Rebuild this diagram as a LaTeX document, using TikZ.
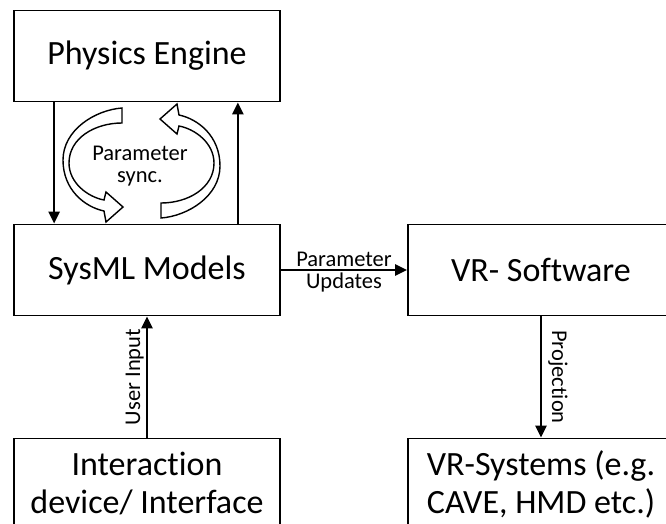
\documentclass[tikz,border=0pt]{standalone}
\usepackage{fontspec}
\setmainfont{Carlito}[Ligatures={NoCommon}]
\usetikzlibrary{arrows.meta,positioning,calc}

\begin{document}
\begin{tikzpicture}[x=1pt,y=-1pt,
  block/.style={draw=black,line width=1.8pt,fill=white,minimum width=266pt,minimum height=91pt,align=center,inner sep=0pt,font=\fontsize{34}{38}\selectfont},
  flow/.style={line width=2.6pt,-{Triangle[length=12pt,width=11pt]}},
  lbl/.style={font=\fontsize{22.5}{22}\selectfont,inner sep=2pt,align=center},
  syncarrow/.style={draw=black,fill=white,line width=1.4pt,line join=miter}]
  \path[use as bounding box,clip] (0,0) rectangle (666,523);
  \node[block] (phys) at (147,56) {Physics Engine};
  \node[block] (sysml) at (147,270) {SysML Models};
  \node[block] (vrsw) at (541,270) {VR- Software};
  \node[block] (inter) at (147,484) {Interaction\\device/ Interface};
  \node[block] (vrsys) at (541,484) {VR-Systems (e.g.\\CAVE, HMD etc.)};
  \foreach \r in {0,180}
    \path[syncarrow,rotate around={\r:(141.5,163)}] (122,108) .. controls (95,110) and (63,130) .. (63,160)
      .. controls (63,190) and (85,207) .. (104,211) -- (106,222) -- (123,207) -- (106,192) -- (104,200)
      .. controls (88,197) and (69,183) .. (69,163) .. controls (69,138) and (95,123) .. (122,123) -- cycle;
  \node[lbl] (sync) at (140,166) {Parameter\\sync.};
  \draw[flow] ([xshift=41pt]phys.south west) -- ([xshift=41pt]sysml.north west);
  \draw[flow] ([xshift=-43pt]sysml.north east) -- ([xshift=-43pt]phys.south east);
  \draw[flow] (sysml) -- node[lbl,above] (upd1) {Parameter} node[lbl,below] (upd2) {Updates} (vrsw);
  \draw[flow] (inter) -- node[lbl,above,sloped] (usr) {User Input} (sysml);
  \draw[flow] (vrsw) -- node[lbl,above,sloped,yshift=4pt] (proj) {Projection} (vrsys);
\end{tikzpicture}
\end{document}
